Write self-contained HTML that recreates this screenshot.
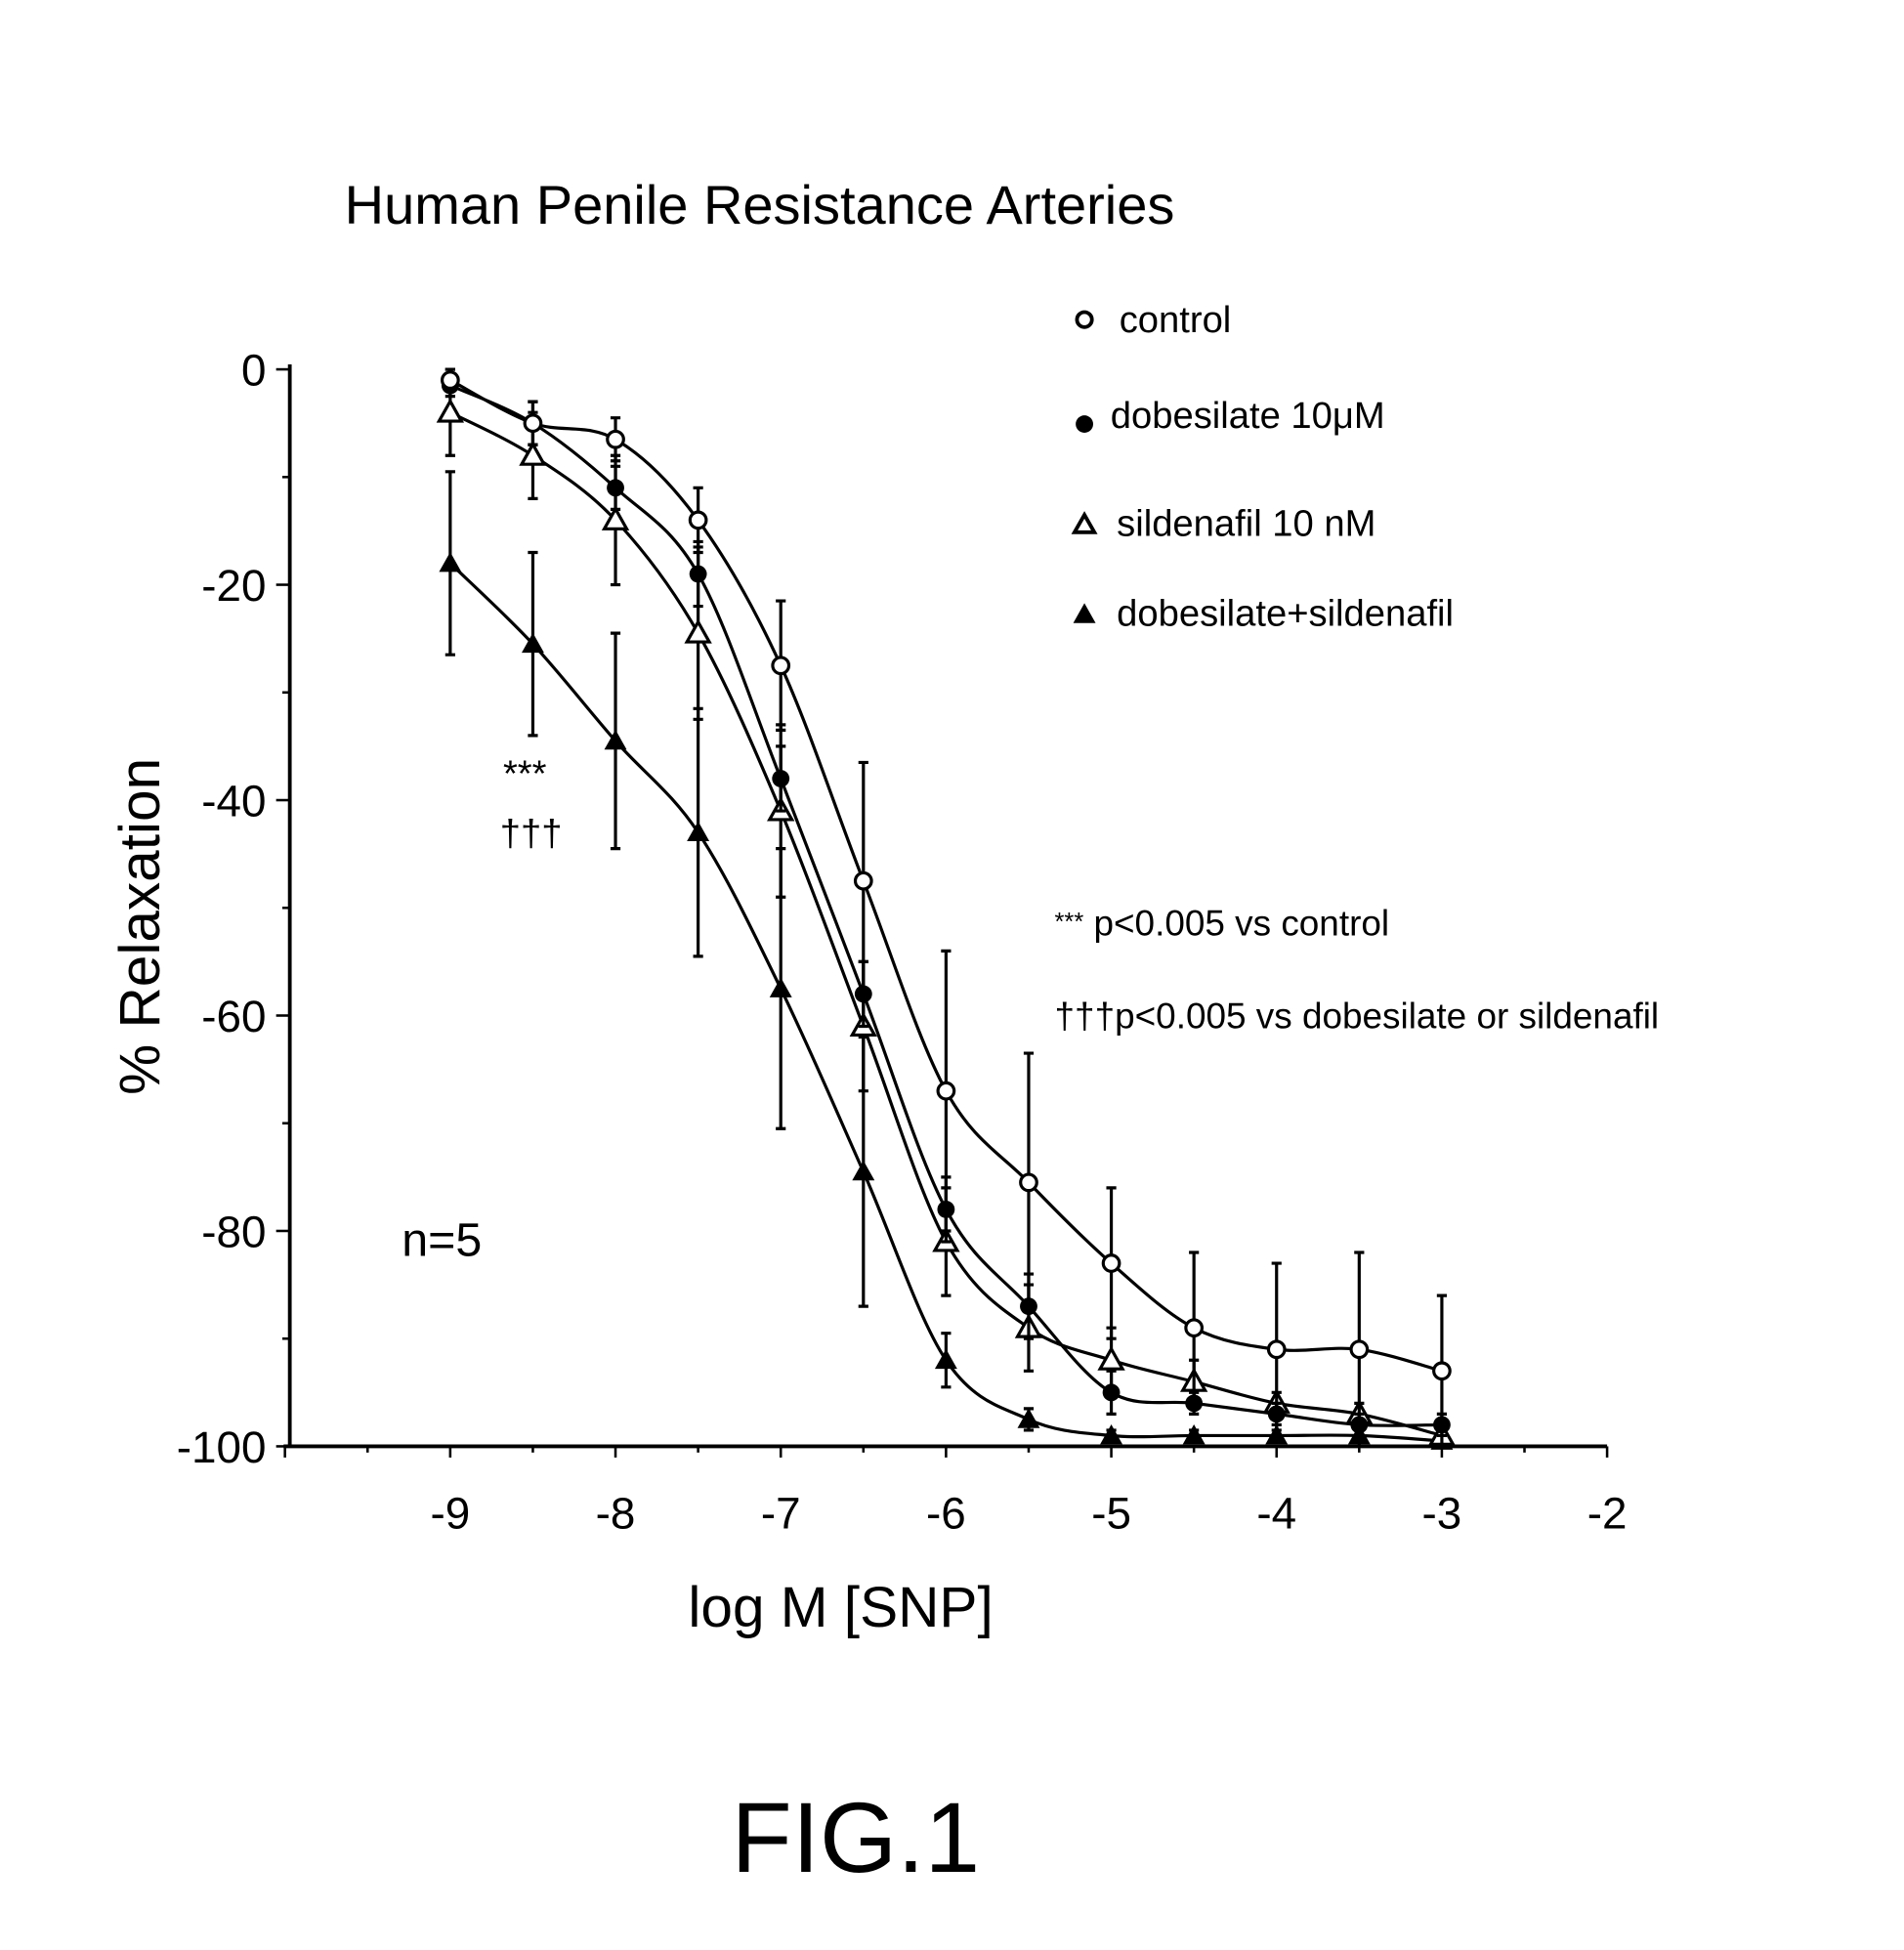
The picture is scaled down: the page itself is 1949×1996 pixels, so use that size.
<!DOCTYPE html>
<html><head><meta charset="utf-8"><style>
html,body{margin:0;padding:0;background:#fff;}
svg{display:block;}
text{font-family:"Liberation Sans",sans-serif;fill:#000;}
</style></head><body>
<svg id="chart" width="1949" height="1996" viewBox="0 0 1531 1568">
<text x="277" y="180" font-size="44">Human Penile Resistance Arteries</text>
<g id="axes"></g>
<g id="series"></g>
<g>
 <circle cx="872" cy="257" r="6" fill="none" stroke="#000" stroke-width="3"/>
 <text x="900" y="267" font-size="30">control</text>
 <circle cx="872" cy="341" r="7" fill="#000"/>
 <text x="893" y="344" font-size="30">dobesilate 10μM</text>
 <polygon points="872,414 880,428 864,428" fill="none" stroke="#000" stroke-width="3"/>
 <text x="898" y="431" font-size="30">sildenafil 10 nM</text>
 <polygon points="872,485 881,501 863,501" fill="#000"/>
 <text x="898" y="503" font-size="30">dobesilate+sildenafil</text>
</g>
<text x="422" y="632" font-size="30" text-anchor="middle">***</text>
<text x="427" y="680" font-size="30" text-anchor="middle">†††</text>
<text x="848" y="752" font-size="29"><tspan font-size="20" dy="-4">***</tspan><tspan dy="4"> p&lt;0.005 vs control</tspan></text>
<text x="848" y="827" font-size="29">†††p&lt;0.005 vs dobesilate or sildenafil</text>
<text x="323" y="1010" font-size="38">n=5</text>
<text x="676" y="1308" font-size="46" text-anchor="middle">log M [SNP]</text>
<text transform="translate(128,745) rotate(-90)" font-size="46" text-anchor="middle">% Relaxation</text>
<text x="688" y="1505" font-size="80" text-anchor="middle">FIG.1</text>
</svg>
<script>
const xValues = [-9,-8.5,-8,-7.5,-7,-6.5,-6,-5.5,-5,-4.5,-4,-3.5,-3];
const controlVals = [-1,-5,-6.5,-14,-27.5,-47.5,-67,-75.5,-83,-89,-91,-91,-93];
const controlErr = [1,2,2,3,6,11,13,12,7,7,8,9,7];
const dobesilateVals = [-1.5,-5,-11,-19,-38,-58,-78,-87,-95,-96,-97,-98,-98];
const dobesilateErr = [1,2,2,3,3,3,3,3,2,1,1,1,1];
const sildenafilVals = [-4,-8,-14,-24.5,-41,-61,-81,-89,-92,-94,-96,-97,-99];
const sildenafilErr = [4,4,6,8,8,6,5,4,3,2,1,1,1];
const comboVals = [-18,-25.5,-34.5,-43,-57.5,-74.5,-92,-97.5,-99,-99,-99,-99,-99.5];
const comboErr = [8.5,8.5,10,11.5,13,12.5,2.5,1,0.5,0.5,0.5,0.5,0.5];
const xTicks = [-9,-8,-7,-6,-5,-4,-3,-2];
const yTicks = [0,-20,-40,-60,-80,-100];

const NS="http://www.w3.org/2000/svg";
const X=v=>362+(v+9)*132.9;
const Y=v=>297-(v/100)*866;
function mk(tag,attrs,parent){const e=document.createElementNS(NS,tag);for(const k in attrs)e.setAttribute(k,attrs[k]);parent.appendChild(e);return e;}
const axes=document.getElementById('axes');
let e;
e=mk('line',{x1:233,y1:293,x2:233,y2:Y(-100),stroke:'#000','stroke-width':3},axes);


e=mk('line',{x1:228,y1:Y(-100),x2:X(-2),y2:Y(-100),stroke:'#000','stroke-width':3},axes);


for(let v=0;v>=-100;v-=10){const big=v%20===0;mk('line',{x1:big?222:227,y1:Y(v),x2:233,y2:Y(v),stroke:'#000','stroke-width':2},axes);}
yTicks.forEach(v=>{const t=mk('text',{x:214,y:Y(v)+13,'font-size':36,'text-anchor':'end'},axes);t.textContent=v;

});
for(let v=-10;v<=-2;v+=0.5){const big=Number.isInteger(v);mk('line',{x1:X(v),y1:Y(-100),x2:X(v),y2:Y(-100)+(big?9:5),stroke:'#000','stroke-width':2},axes);}
xTicks.forEach(v=>{const t=mk('text',{x:X(v),y:Y(-100)+66,'font-size':36,'text-anchor':'middle'},axes);t.textContent=v;

});

const ser=document.getElementById('series');
function smooth(pts){let d=`M${pts[0][0]},${pts[0][1]}`;for(let i=0;i<pts.length-1;i++){const p0=pts[Math.max(0,i-1)],p1=pts[i],p2=pts[i+1],p3=pts[Math.min(pts.length-1,i+2)];
const c1=[p1[0]+(p2[0]-p0[0])/6,p1[1]+(p2[1]-p0[1])/6],c2=[p2[0]-(p3[0]-p1[0])/6,p2[1]-(p3[1]-p1[1])/6];d+=`C${c1[0]},${c1[1]} ${c2[0]},${c2[1]} ${p2[0]},${p2[1]}`;}return d;}
function draw(name,vals,errs,shape,filled){
 const g=mk('g',{},ser);
 
 
 const pts=xValues.map((x,i)=>[X(x),Y(vals[i])]);
 const p=mk('path',{d:smooth(pts),fill:'none',stroke:'#000','stroke-width':2.5},g);
 
 
 xValues.forEach((x,i)=>{
  const cx=X(x),cy=Y(vals[i]),dy=errs[i]/100*866;
  const eb=mk('path',{d:`M${cx},${cy-dy}V${cy+dy}M${cx-4},${cy-dy}H${cx+4}M${cx-4},${cy+dy}H${cx+4}`,stroke:'#000','stroke-width':2.5,fill:'none'},g);
  
  
  let m;
  if(shape==='c') m=mk('circle',{cx,cy,r:filled?7:6.5,fill:filled?'#000':'#fff',stroke:'#000','stroke-width':filled?0:2.5},g);
  else m=mk('polygon',{points:`${cx},${cy-9} ${cx+9},${cy+7} ${cx-9},${cy+7}`,fill:filled?'#000':'#fff',stroke:'#000','stroke-width':filled?0:2.5},g);
  
  
 });
}
draw('combo',comboVals,comboErr,'t',true);
draw('sildenafil',sildenafilVals,sildenafilErr,'t',false);
draw('dobesilate',dobesilateVals,dobesilateErr,'c',true);
draw('control',controlVals,controlErr,'c',false);
</script>
</body></html>
